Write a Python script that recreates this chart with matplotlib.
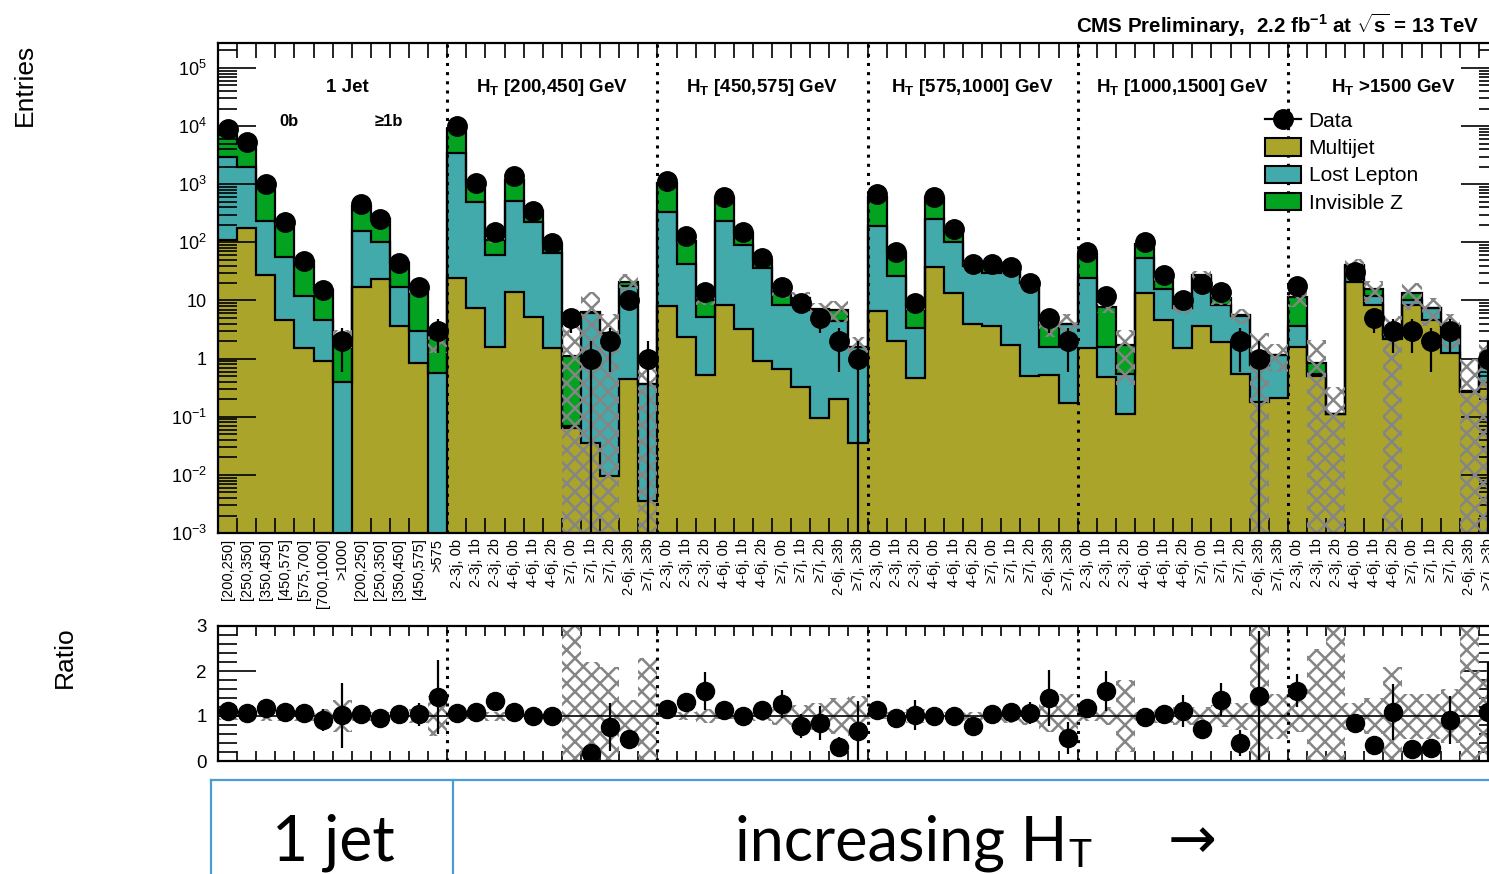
import numpy as np
import matplotlib
matplotlib.use("Agg")
import matplotlib.pyplot as plt
import matplotlib.transforms as mtransforms
from matplotlib.lines import Line2D
from matplotlib.patches import Patch
from matplotlib.ticker import FixedLocator, LogLocator, NullFormatter, FuncFormatter, MultipleLocator

plt.rcParams['font.family'] = ['Liberation Sans', 'DejaVu Sans']
plt.rcParams['mathtext.fontset'] = 'custom'
plt.rcParams['mathtext.rm'] = 'Liberation Sans'
plt.rcParams['mathtext.bf'] = 'Liberation Sans:bold'
plt.rcParams['mathtext.it'] = 'Liberation Sans:italic'
plt.rcParams['hatch.linewidth'] = 1.8

# ---------------- data ----------------
one_jet_labels = ["[200,250]", "[250,350]", "[350,450]", "[450,575]", "[575,700]",
                  "[700,1000]", ">1000", "[200,250]", "[250,350]", "[350,450]",
                  "[450,575]", ">575"]
ht_bin_labels = ["2-3j, 0b", "2-3j, 1b", "2-3j, 2b", "4-6j, 0b", "4-6j, 1b", "4-6j, 2b",
                 "\u22657j, 0b", "\u22657j, 1b", "\u22657j, 2b", "2-6j, \u22653b", "\u22657j, \u22653b"]
ht_regions = ["H$_{\\mathbf{T}}$ [200,450] GeV", "H$_{\\mathbf{T}}$ [450,575] GeV",
              "H$_{\\mathbf{T}}$ [575,1000] GeV", "H$_{\\mathbf{T}}$ [1000,1500] GeV",
              "H$_{\\mathbf{T}}$ >1500 GeV"]

multijet = [110, 180, 28, 4.7, 1.5, 0.9, 0, 17, 23, 3.7, 0.85, 0,
            24, 7.3, 1.6, 14, 5.1, 1.5, 0.065, 0.035, 0.0096, 0.45, 0.0036,
            7.9, 2.4, 0.53, 8.5, 3.2, 0.92, 0.65, 0.33, 0.096, 0.2, 0.035,
            6.5, 2.0, 0.47, 37, 13.7, 4.0, 3.6, 1.74, 0.51, 0.52, 0.17,
            1.55, 0.49, 0.11, 13.2, 4.7, 1.5, 3.7, 1.9, 0.55, 0.18, 0.21,
            1.6, 0.5, 0.11, 21, 8.5, 2.2, 8.5, 4.7, 1.27, 0.27, 0.39]

lost_lepton = [2790, 1820, 202, 52, 10.5, 3.8, 0.4, 138, 77, 13.3, 2.15, 0.57,
               3376, 483, 58, 496, 215, 63.5, 0.005, 6.16, 2.79, 17.5, 0.356,
               322, 39.6, 4.77, 221.5, 85.8, 36, 7.85, 9.7, 6.9, 4.2, 1.57,
               183.5, 24, 2.93, 213, 86.3, 36, 26.4, 31.3, 19.5, 1.08, 3.73,
               22.5, 1.1, 0.44, 39.8, 11, 5.8, 21.3, 6.6, 4.95, 0.61, 0.96,
               2.1, 0.05, 0, 19, 3.5, 0.4, 1.9, 2.6, 2.33, 0.01, 0.5]

invisible_z = [5600, 3000, 770, 163, 35, 10.3, 1.9, 275, 150, 28, 13, 1.7,
               5600, 510, 50, 690, 120, 27, 1.03, 0.1, 0.01, 3, 0,
               720, 63, 4.7, 350, 56, 13, 5.2, 1.0, 0.1, 2.6, 0,
               410, 39, 4.6, 330, 60, 2, 10, 2, 0.3, 2.0, 0.05,
               39, 6, 1.19, 42, 9.3, 0.1, 2, 2.5, 0.05, 0, 0,
               8, 0.3, 0, 0.3, 3.6, 0, 3.1, 0, 0, 0, 0]

data_counts = [9000, 5300, 1000, 220, 47, 15, 2, 450, 250, 45, 17, 3,
               10000, 1070, 150, 1370, 350, 98, 5, 1, 2, 10, 1,
               1120, 127, 14, 600, 150, 53, 17, 9, 5, 2, 1,
               670, 69, 9, 600, 168, 43, 43, 37, 20, 5, 2,
               69, 12, 0, 100, 27, 10, 19, 14, 2, 1, 0,
               18, 0, 0, 31, 5, 3, 3, 2, 3, 0, 1]

nan = np.nan
ratio_vals = [1.11, 1.07, 1.18, 1.09, 1.07, 0.91, 1.02, 1.04, 0.96, 1.04, 1.04, 1.42,
              1.07, 1.09, 1.33, 1.09, 1.00, 1.00, nan, 0.18, 0.76, 0.49, nan,
              1.16, 1.31, 1.56, 1.13, 1.00, 1.13, 1.27, 0.78, 0.84, 0.31, 0.67,
              1.13, 0.96, 1.02, 1.00, 1.00, 0.78, 1.04, 1.09, 1.07, 1.40, 0.51,
              1.18, 1.56, nan, 0.98, 1.04, 1.11, 0.71, 1.36, 0.40, 1.44, nan,
              1.56, nan, nan, 0.84, 0.36, 1.09, 0.27, 0.29, 0.91, nan, 1.10]

rel_unc = [0.08, 0.08, 0.10, 0.10, 0.12, 0.15, 0.35, 0.10, 0.10, 0.12, 0.15, 0.45,
           0.06, 0.06, 0.10, 0.06, 0.08, 0.10, 2.5, 1.2, 1.1, 0.35, 1.3,
           0.06, 0.08, 0.15, 0.06, 0.08, 0.10, 0.20, 0.25, 0.30, 0.40, 0.45,
           0.06, 0.08, 0.15, 0.06, 0.08, 0.10, 0.12, 0.15, 0.20, 0.35, 0.50,
           0.12, 0.20, 0.80, 0.10, 0.15, 0.20, 0.20, 0.25, 0.30, 2.5, 0.50,
           0.35, 1.5, 2.0, 0.30, 0.40, 1.1, 0.50, 0.50, 0.60, 2.5, 1.0]

bin_labels = one_jet_labels + ht_bin_labels * 5

OLIVE = '#aaa52a'
TEAL = '#43aaac'
GREEN = '#03a220'
HATCH = '#858585'
BLUE = '#4a9dd3'

# ---------------- figure ----------------
W, H = 1489, 874
fig = plt.figure(figsize=(W / 100, H / 100), dpi=100)


def fx(x):
    return x / W


def fy(y):
    return 1 - y / H


ax = fig.add_axes([fx(218), fy(533), fx(1498) - fx(218), fy(43) - fy(533)])
axr = fig.add_axes([fx(218), fy(761), fx(1498) - fx(218), fy(626) - fy(761)])

n = len(bin_labels)
edges = np.arange(n + 1)
centers = edges[:-1] + 0.5
mj = np.array(multijet, float)
ll = np.array(lost_lepton, float)
iz = np.array(invisible_z, float)
c1 = mj
c2 = mj + ll
c3 = c2 + iz
u = np.array(rel_unc, float)
d = np.array(data_counts, float)
r = np.array(ratio_vals, float)

floor = 1e-6
ax.set_yscale('log')
for vals, col in [(c3, GREEN), (c2, TEAL), (c1, OLIVE)]:
    ax.stairs(np.maximum(vals, floor), edges, baseline=floor, fill=True,
              facecolor=col, edgecolor='none', lw=0, zorder=1)
for vals in [c3, c2, c1]:
    ax.stairs(np.maximum(vals, floor), edges, baseline=None, color='k', lw=1.6, zorder=2)

lo = np.maximum(c3 * (1 - u), floor)
hi = c3 * (1 + u)
ax.stairs(hi, edges, baseline=lo, fill=True, facecolor='none', edgecolor=HATCH,
          hatch='xx', lw=0, zorder=3)

m = d > 0
ax.errorbar(centers[m], d[m], yerr=np.sqrt(d[m]), fmt='o', color='k', ms=14,
            elinewidth=1.6, capsize=0, zorder=6)

ax.set_xlim(0, n)
ax.set_ylim(1e-3, 10 ** 5.43)

# ratio panel
axr.stairs(np.minimum(1 + u, 3.5), edges, baseline=np.maximum(1 - u, -0.5), fill=True,
           facecolor='none', edgecolor=HATCH, hatch='xx', lw=0, zorder=2)
axr.axhline(1.0, color='k', lw=1.2, zorder=3)
rm = ~np.isnan(r)
axr.errorbar(centers[rm], r[rm], yerr=r[rm] / np.sqrt(d[rm]), fmt='o', color='k', ms=13,
             elinewidth=1.6, capsize=0, zorder=6)
axr.set_xlim(0, n)
axr.set_ylim(0, 3)

# separators
group_edges = [12, 23, 34, 45, 56]
for a in (ax, axr):
    for g in group_edges:
        a.axvline(g, color='k', lw=2.2, ls=(0, (1, 2)), zorder=5)

# ticks
for a in (ax, axr):
    a.xaxis.set_major_locator(FixedLocator(centers))
    a.xaxis.set_minor_locator(FixedLocator(edges))
    a.tick_params(axis='x', which='major', length=0, pad=4)
    a.tick_params(axis='x', which='minor', direction='in', length=10.5, width=1.2,
                  top=True, bottom=True)
    for s in a.spines.values():
        s.set_linewidth(1.6)
        s.set_zorder(7)

ax.set_xticklabels(bin_labels, rotation=90, fontsize=10.5, va='top')
axr.set_xticklabels([])
axr.tick_params(axis='x', which='minor', length=7)

ax.yaxis.set_major_locator(LogLocator(base=10, numticks=20))
ax.yaxis.set_minor_locator(LogLocator(base=10, subs=np.arange(2, 10), numticks=20))
ax.yaxis.set_minor_formatter(NullFormatter())


def logfmt(v, pos):
    e = int(round(np.log10(v)))
    if e == 0:
        return '1'
    if e == 1:
        return '10'
    return r'$\mathregular{10^{%d}}$' % e


ax.yaxis.set_major_formatter(FuncFormatter(logfmt))
ax.tick_params(axis='y', which='major', direction='in', length=27, width=1.2, right=True,
               labelsize=13, pad=8)
ax.tick_params(axis='y', which='minor', direction='in', length=14, width=1.2, right=True)

axr.yaxis.set_major_locator(FixedLocator([0, 1, 2, 3]))
axr.yaxis.set_minor_locator(MultipleLocator(0.2))
axr.tick_params(axis='y', which='major', direction='in', length=27, width=1.2, right=True,
                labelsize=13.5, pad=8)
axr.tick_params(axis='y', which='minor', direction='in', length=14, width=1.2, right=True)

# text in top panel
fig.text(fx(347), fy(87), '1 Jet', fontsize=13.5, fontweight='bold', ha='center', va='center')
fig.text(fx(289), fy(121), '0b', fontsize=12, fontweight='bold', ha='center', va='center')
fig.text(fx(389), fy(121), '\u22651b', fontsize=12, fontweight='bold', ha='center', va='center')
blend = mtransforms.blended_transform_factory(ax.transData, fig.transFigure)
for i, lab in enumerate(ht_regions):
    xc = (12 + 11 * i + 12 + 11 * (i + 1)) / 2
    ax.text(xc, fy(87), lab, transform=blend, fontsize=13.5, fontweight='bold',
            ha='center', va='center')

fig.text(fx(1076), fy(25), 'CMS Preliminary,  2.2 fb$^{\\mathbf{-1}}$ at $\\mathbf{\\sqrt{s}}$ = 13 TeV',
         fontsize=14.8, fontweight='bold', ha='left', va='center')

# legend
handles = [Line2D([], [], color='k', marker='o', ms=14, lw=1.6),
           Patch(facecolor=OLIVE, edgecolor='k', lw=1.5),
           Patch(facecolor=TEAL, edgecolor='k', lw=1.5),
           Patch(facecolor=GREEN, edgecolor='k', lw=1.5)]
labels = ['Data', 'Multijet', 'Lost Lepton', 'Invisible Z']
ax.legend(handles, labels, loc='upper left', bbox_to_anchor=(fx(1265), fy(111)),
          bbox_transform=fig.transFigure, frameon=False, fontsize=15,
          handlelength=1.75, handleheight=0.9, handletextpad=0.35, labelspacing=0.36,
          borderpad=0, borderaxespad=0)

# axis titles
fig.text(fx(25), fy(85), 'Entries', fontsize=19, rotation=90, ha='center', va='center')
fig.text(fx(65), fy(657), 'Ratio', fontsize=19, rotation=90, ha='center', va='center')

# bottom annotation box
for (x0, y0, x1, y1) in [(211, 780, 1489, 780), (211, 780, 211, 874), (453, 780, 453, 874)]:
    fig.add_artist(Line2D([fx(x0), fx(x1)], [fy(y0), fy(y1)], transform=fig.transFigure,
                          color=BLUE, lw=1.6))

big = dict(family=['Lato', 'DejaVu Sans'], fontweight='normal', color='black')
fig.text(fx(333), fy(860), '1 jet', fontsize=45, ha='center', va='baseline', **big)

renderer = fig.canvas.get_renderer()
t1 = fig.text(fx(735), fy(860), 'increasing H', fontsize=44, ha='left', va='baseline', **big)
bb = t1.get_window_extent(renderer)
x_after = bb.x1 / fig.dpi / fig.get_figwidth()
t2 = fig.text(x_after + fx(1), fy(867), 'T', fontsize=28, ha='left', va='baseline', **big)
fig.text(fx(1168), fy(858), '\u2192', fontsize=42, ha='left', va='baseline',
         family=['DejaVu Sans'], color='black')

fig.savefig('out.png', dpi=100)
